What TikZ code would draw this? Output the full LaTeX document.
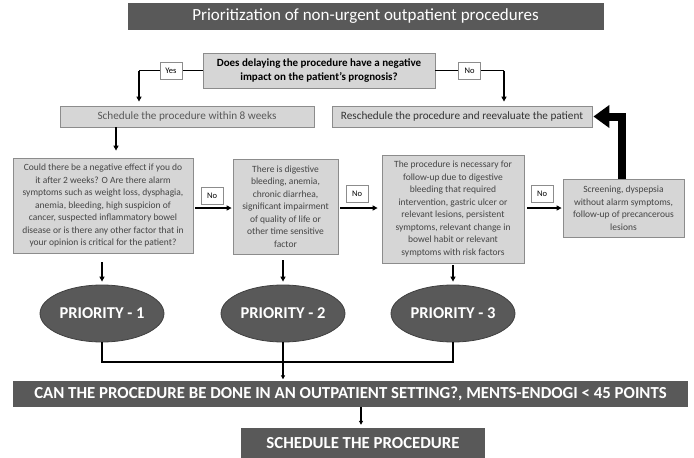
\documentclass[tikz,border=0pt]{standalone}
\usepackage{fontspec}
\setmainfont{Carlito}
\usetikzlibrary{arrows.meta,shapes.geometric}
\definecolor{darkbar}{HTML}{595959}
\definecolor{lightbox}{HTML}{D6D6D6}
\definecolor{boxline}{HTML}{8C8C8C}
\definecolor{boxtext}{HTML}{454545}

\begin{document}
\begin{tikzpicture}[x=1pt,y=1pt,yscale=-1,xscale=1,
  bar/.style={fill=darkbar,draw=none,text=white,font=\bfseries\fontsize{16.8}{18}\selectfont,inner sep=0pt},
  grey/.style={fill=lightbox,draw=boxline,line width=0.8pt,text=boxtext,align=center,inner sep=0pt,font=\fontsize{9.5}{12.5}\selectfont},
  tag/.style={fill=white,draw=boxline,line width=0.6pt,text=black,inner sep=2.5pt,minimum width=22pt,minimum height=17pt,font=\fontsize{8.5}{9}\selectfont},
  prio/.style={ellipse,fill=darkbar,draw=black!75,line width=0.8pt,text=white,minimum width=124pt,minimum height=57pt,inner sep=0pt,font=\bfseries\fontsize{16.5}{18}\selectfont},
  link/.style={line width=1.4pt,-{Triangle[length=5pt,width=5pt]}},
  bigarrow/.style={line width=8pt,-{Triangle[length=16pt,width=22pt]}}]
\useasboundingbox (0,0) rectangle (694,458);

%Shape: Title bar
\node [bar,minimum width=476pt,minimum height=27pt,font=\fontsize{17}{18}\selectfont] (title) at (365.5,16) {Prioritization of non-urgent outpatient procedures};

%Shape: Question
\node [grey,text=black,minimum width=232pt,minimum height=35pt,font=\bfseries\fontsize{11}{13.5}\selectfont] (ask) at (319,70.5) {Does delaying the procedure have a negative\\impact on the patient's prognosis?};

%Shape: Schedule / Reschedule
\node [grey,text=darkbar,minimum width=254pt,minimum height=21pt,font=\fontsize{11.2}{12}\selectfont] (sched) at (187,116.5) {Schedule the procedure within 8 weeks};
\node [grey,text=black!80,minimum width=260pt,minimum height=21pt,font=\fontsize{11.2}{12}\selectfont] (resched) at (462,116.5) {Reschedule the procedure and reevaluate the patient};

%Shape: Criteria boxes
\node [grey,minimum width=180pt,minimum height=95pt] (crit1) at (103,205.5) {Could there be a negative effect if you do\\it after 2 weeks? O Are there alarm\\symptoms such as weight loss, dysphagia,\\anemia, bleeding, high suspicion of\\cancer, suspected inflammatory bowel\\disease or is there any other factor that in\\your opinion is critical for the patient?};
\node [grey,minimum width=105pt,minimum height=95pt] (crit2) at (285.5,206.5) {There is digestive\\bleeding, anemia,\\chronic diarrhea,\\significant impairment\\of quality of life or\\other time sensitive\\factor};
\node [grey,minimum width=142pt,minimum height=108pt] (crit3) at (453,209) {The procedure is necessary for\\follow-up due to digestive\\bleeding that required\\intervention, gastric ulcer or\\relevant lesions, persistent\\symptoms, relevant change in\\bowel habit or relevant\\symptoms with risk factors};
\node [grey,minimum width=121pt,minimum height=58pt] (crit4) at (623.5,208) {Screening, dyspepsia\\without alarm symptoms,\\follow-up of precancerous\\lesions};

%Shape: Priorities
\node [prio] (prio1) at (102,313.5) {PRIORITY - 1};
\node [prio] (prio2) at (283,313.5) {PRIORITY - 2};
\node [prio] (prio3) at (453,313.5) {PRIORITY - 3};

%Shape: Bottom bars
\node [bar,minimum width=675pt,minimum height=26pt] (setting) at (350.5,393.5) {CAN THE PROCEDURE BE DONE IN AN OUTPATIENT SETTING?, MENTS-ENDOGI < 45 POINTS};
\node [bar,minimum width=244pt,minimum height=30pt] (final) at (363,443) {SCHEDULE THE PROCEDURE};

%Straight Lines: Yes / No branches
\coordinate (yesturn) at (139,70.5);
\coordinate (noturn) at (504,70.5);
\draw [line width=1.4pt] (ask.west) -- node [tag] (yes) {Yes} (yesturn);
\draw [link,shorten >=4pt] (yesturn) -- (yesturn |- sched.north);
\draw [line width=1.4pt] (ask.east) -- node [tag] (no) {No} (noturn);
\draw [link,shorten >=4pt] (noturn) -- (noturn |- resched.north);

%Straight Lines: down from schedule
\draw [link,shorten >=7pt] (116,0 |- sched.south) -- (116,0 |- crit1.north);

%Straight Lines: No arrows between boxes
\draw [link,shorten <=2pt,shorten >=1pt] (crit1.east |- 0,208) -- (crit2.west |- 0,208);
\draw [link,shorten <=2pt,shorten >=4pt] (crit2.east |- 0,208) -- (crit3.west |- 0,208);
\draw [link,shorten <=3pt,shorten >=1pt] (crit3.east |- 0,208) -- (crit4.west |- 0,208);
\node [tag] (no1) at (212,195.5) {No};
\node [tag] (no2) at (357,194) {No};
\node [tag] (no3) at (542,194) {No};

%Straight Lines: thick return arrow
\draw [bigarrow] (622,0 |- crit4.north) -- (622,116.5) -- ([xshift=1pt]resched.east);

%Straight Lines: down to priorities
\draw [link,shorten <=9pt,shorten >=3pt] (crit1.south -| prio1.north) -- (prio1.north);
\draw [link,shorten <=6pt,shorten >=3pt] (crit2.south -| prio2.north) -- (prio2.north);
\draw [link,shorten <=2pt,shorten >=3pt] (crit3.south -| prio3.north) -- (prio3.north);

%Straight Lines: join priorities
\coordinate (join) at (283,362);
\draw [line width=1.1pt] (prio1.south) -- (prio1.south |- join) -- (prio3.south |- join) -- (prio3.south);
\draw [line width=1.1pt,-{Triangle[length=4pt,width=4pt]},shorten >=1pt] (prio2.south) -- (prio2.south |- setting.north);

%Straight Lines: to final step
\draw [line width=1.1pt,-{Triangle[length=4pt,width=4pt]},shorten >=3pt] (361,0 |- setting.south) -- (361,0 |- final.north);

\end{tikzpicture}
\end{document}
